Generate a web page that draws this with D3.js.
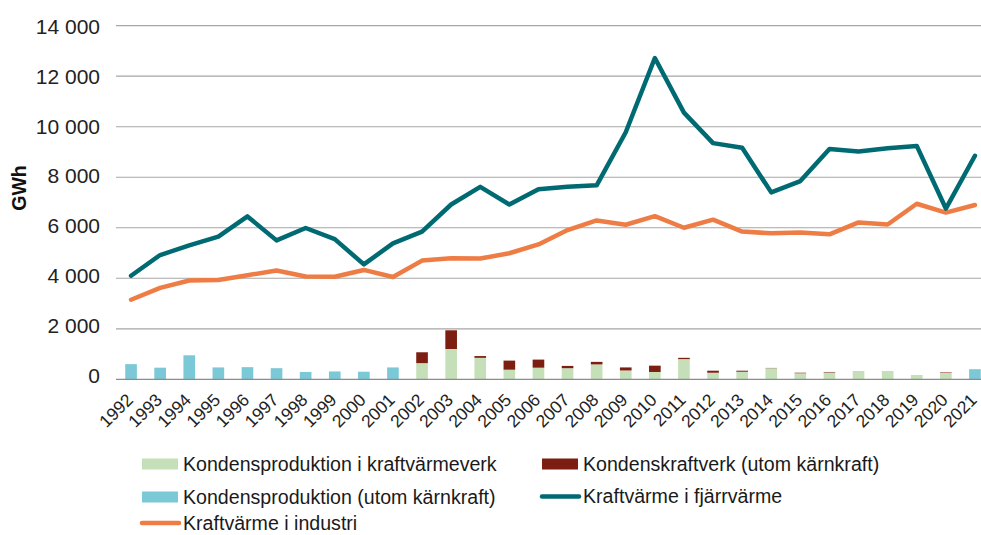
<!DOCTYPE html>
<html>
<head>
<meta charset="utf-8">
<script src="https://cdn.jsdelivr.net/npm/d3@7"></script>
<style>
  html, body { margin: 0; padding: 0; background: #fff; }
  svg { display: block; font-family: "Liberation Sans", Arial, Helvetica, sans-serif; }
</style>
</head>
<body>
<svg id="chart" width="981" height="535"></svg>
<script>
const years = [1992,1993,1994,1995,1996,1997,1998,1999,2000,2001,2002,2003,2004,2005,2006,2007,2008,2009,2010,2011,2012,2013,2014,2015,2016,2017,2018,2019,2020,2021];

// Bars (GWh)
const kondensUtomKarn = [600,460,950,470,480,440,290,310,300,470, 0,0,0,0,0,0,0,0,0,0, 0,0,0,0,0,0,0,0,0,400];
const kondensKraftvarmeverk = [0,0,0,0,0,0,0,0,0,0, 640,1200,850,380,460,440,590,350,290,800, 260,300,440,240,270,330,330,170,250,0];
const kondenskraftverk = [0,0,0,0,0,0,0,0,0,0, 430,740,70,360,320,90,100,120,250,50, 80,40,10,20,20,0,0,0,20,0];

// Lines (GWh)
const kraftvarmeFjarrvarme = [4100,4920,5300,5650,6450,5500,5990,5550,4550,5380,5850,6920,7620,6920,7520,7620,7680,9780,12720,10560,9350,9170,7400,7850,9120,9020,9150,9240,6760,8850];
const kraftvarmeIndustri = [3150,3620,3910,3930,4120,4310,4070,4060,4330,4050,4700,4790,4780,4990,5340,5910,6290,6120,6460,6000,6320,5850,5780,5810,5740,6210,6130,6950,6600,6900];

const yTicks = [0,2000,4000,6000,8000,10000,12000,14000];

const seriesNames = {
  green: "Kondensproduktion i kraftvärmeverk",
  red: "Kondenskraftverk (utom kärnkraft)",
  blue: "Kondensproduktion (utom kärnkraft)",
  teal: "Kraftvärme i fjärrvärme",
  orange: "Kraftvärme i industri"
};

const colors = {
  green: "#c5e0b8",
  red: "#7d1e12",
  blue: "#7bc8d6",
  teal: "#006a73",
  orange: "#ee7d45"
};

const svg = d3.select("#chart");

const x = d3.scaleBand().domain(years).range([116.5, 989.5]).paddingInner(0.6).paddingOuter(0.3);
const y = d3.scaleLinear().domain([0, 14000]).range([379.3, 25.7]);
const yLab = d3.scaleLinear().domain([0, 14000]).range([375.3, 26.3]);
const fmt = v => d3.format(",")(v).replace(/,/g, " ");

// gridlines
svg.append("g").selectAll("line").data(yTicks.filter(d => d > 0)).join("line")
  .attr("x1", 116).attr("x2", 981)
  .attr("y1", d => y(d)).attr("y2", d => y(d))
  .attr("stroke", "#a6a6a6").attr("stroke-width", 1.2);

// y tick labels
svg.append("g").selectAll("text").data(yTicks).join("text")
  .attr("x", 100).attr("y", d => yLab(d))
  .attr("dy", "0.36em")
  .attr("text-anchor", "end")
  .attr("font-size", 21)
  .attr("fill", "#222")
  .text(d => fmt(d));

// y axis title
svg.append("text")
  .attr("transform", "translate(26,188) rotate(-90)")
  .attr("text-anchor", "middle")
  .attr("font-size", 19.5)
  .attr("font-weight", "bold")
  .attr("fill", "#111")
  .text("GWh");

// stacked bars
const table = years.map((yr, i) => ({ year: yr, blue: kondensUtomKarn[i], green: kondensKraftvarmeverk[i], red: kondenskraftverk[i] }));
const stack = d3.stack().keys(["blue", "green", "red"])(table);
svg.append("g").selectAll("g").data(stack).join("g")
  .attr("fill", d => colors[d.key])
  .selectAll("rect").data(d => d).join("rect")
  .attr("x", d => x(d.data.year))
  .attr("width", x.bandwidth())
  .attr("y", d => y(d[1]))
  .attr("height", d => Math.max(0, y(d[0]) - y(d[1])));

// baseline
svg.append("line")
  .attr("x1", 116).attr("x2", 981)
  .attr("y1", y(0)).attr("y2", y(0))
  .attr("stroke", "#8c8c8c").attr("stroke-width", 1.3);

// lines
const cx = yr => x(yr) + x.bandwidth() / 2;
const line = d3.line().x(d => cx(d[0])).y(d => y(d[1]));
[[kraftvarmeIndustri, colors.orange], [kraftvarmeFjarrvarme, colors.teal]].forEach(([vals, col]) => {
  svg.append("path")
    .datum(years.map((yr, i) => [yr, vals[i]]))
    .attr("d", line)
    .attr("fill", "none")
    .attr("stroke", col)
    .attr("stroke-width", 4.5)
    .attr("stroke-linejoin", "round")
    .attr("stroke-linecap", "round");
});

// x tick labels
svg.append("g").selectAll("text").data(years).join("text")
  .attr("transform", d => `translate(${cx(d) + 3},401) rotate(-45)`)
  .attr("text-anchor", "end")
  .attr("font-size", 17.5)
  .attr("fill", "#222")
  .text(d => d);

// legend
const legend = [
  { key: "green", type: "rect", x: 142, y: 464 },
  { key: "red", type: "rect", x: 542, y: 464 },
  { key: "blue", type: "rect", x: 142, y: 497 },
  { key: "teal", type: "line", x: 542, y: 496.5 },
  { key: "orange", type: "line", x: 142, y: 523 }
];
const lg = svg.append("g");
legend.forEach(l => {
  if (l.type === "rect") {
    lg.append("rect").attr("x", l.x).attr("y", l.y - 5.5).attr("width", 36).attr("height", 11).attr("fill", colors[l.key]);
  } else {
    lg.append("line").attr("x1", l.x).attr("x2", l.x + 37).attr("y1", l.y).attr("y2", l.y)
      .attr("stroke", colors[l.key]).attr("stroke-width", 4.5).attr("stroke-linecap", "round");
  }
  lg.append("text").attr("x", l.x + 41).attr("y", l.y + 6.8)
    .attr("font-size", 19.6).attr("fill", "#1a1a1a")
    .text(seriesNames[l.key]);
});
</script>
</body>
</html>
